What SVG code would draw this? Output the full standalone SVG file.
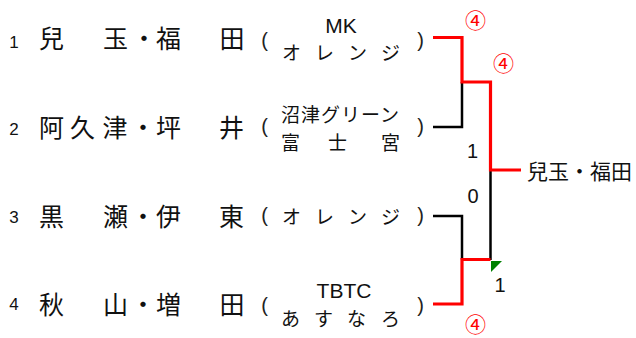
<svg xmlns="http://www.w3.org/2000/svg" width="636" height="338" viewBox="0 0 636 338">
<style>
.num{font-family:"Liberation Sans",Arial,sans-serif;font-size:17px;fill:#111;text-anchor:middle}
.nm{font-family:"Noto Sans CJK JP","Noto Sans CJK SC",sans-serif;font-size:25px;fill:#111;text-anchor:middle}
.par{font-family:"Liberation Sans",Arial,sans-serif;font-size:20px;fill:#222;text-anchor:middle}
.tm{font-family:"Noto Sans CJK JP","Noto Sans CJK SC",sans-serif;font-size:19px;fill:#111}
.lat{font-family:"Liberation Sans",Arial,sans-serif;font-size:21px;fill:#111;text-anchor:middle}
.win{font-family:"Noto Sans CJK JP","Noto Sans CJK SC",sans-serif;font-size:21px;fill:#111}
.sc{font-family:"Liberation Sans",Arial,sans-serif;font-size:20px;fill:#111;text-anchor:middle}
.cn{font-family:"Noto Sans CJK JP","Noto Sans CJK SC",sans-serif;font-size:21px;fill:#ff0000;text-anchor:middle}
.blk{fill:none;stroke:#000;stroke-width:2.5}
.red{fill:none;stroke:#ff0000;stroke-width:3.2}
</style>
<g id="connectors">
<path class="blk" d="M433,127 H462 V82"/>
<path class="blk" d="M433,216 H462 V259.5"/>
<path class="blk" d="M490.5,170 V260"/>
<path class="red" d="M433,37.5 H462 V82 H490.5 V170 H521"/>
<path class="red" d="M433,304 H462 V259.5 H490.5"/>
<polygon points="491,261 502,261 491,272" fill="#008000"/>
</g>
<g id="entry1">
<text class="num" x="14" y="47.5">1</text>
<text class="nm" y="48"><tspan x="51.5">兒</tspan><tspan x="115.5">玉</tspan><tspan x="144">・</tspan><tspan x="168.5">福</tspan><tspan x="232">田</tspan></text>
<text class="par" y="46.5"><tspan x="264.5">(</tspan><tspan x="420.5">)</tspan></text>
<text class="lat" x="341" y="32.5">MK</text>
<text class="tm" y="60"><tspan x="282">オ</tspan><tspan x="315">レ</tspan><tspan x="348">ン</tspan><tspan x="381">ジ</tspan></text>
</g>
<g id="entry2">
<text class="num" x="14" y="135">2</text>
<text class="nm" y="137"><tspan x="51.5">阿</tspan><tspan x="82.5">久</tspan><tspan x="115">津</tspan><tspan x="143">・</tspan><tspan x="168.5">坪</tspan><tspan x="231.5">井</tspan></text>
<text class="par" y="133"><tspan x="264.5">(</tspan><tspan x="420.5">)</tspan></text>
<text class="tm" x="281" y="122" letter-spacing="1">沼津グリーン</text>
<text class="tm" y="150"><tspan x="281">富</tspan><tspan x="328">士</tspan><tspan x="381">宮</tspan></text>
</g>
<g id="entry3">
<text class="num" x="14" y="223">3</text>
<text class="nm" y="225.5"><tspan x="51.5">黒</tspan><tspan x="115.5">瀬</tspan><tspan x="143">・</tspan><tspan x="168.5">伊</tspan><tspan x="231.5">東</tspan></text>
<text class="par" y="221.5"><tspan x="264.5">(</tspan><tspan x="420.5">)</tspan></text>
<text class="tm" y="223.5"><tspan x="282">オ</tspan><tspan x="315">レ</tspan><tspan x="348">ン</tspan><tspan x="381">ジ</tspan></text>
</g>
<g id="entry4">
<text class="num" x="14" y="310">4</text>
<text class="nm" y="314"><tspan x="51.5">秋</tspan><tspan x="115.5">山</tspan><tspan x="143">・</tspan><tspan x="168.5">増</tspan><tspan x="232">田</tspan></text>
<text class="par" y="311.5"><tspan x="264.5">(</tspan><tspan x="420.5">)</tspan></text>
<text class="lat" x="344" y="298">TBTC</text>
<text class="tm" y="325.5"><tspan x="281">あ</tspan><tspan x="314">す</tspan><tspan x="347">な</tspan><tspan x="381">ろ</tspan></text>
</g>
<g id="winner">
<text class="win" x="527" y="179">兒玉・福田</text>
</g>
<g id="scores">
<text class="sc" x="472.5" y="158">1</text>
<text class="sc" x="473" y="203">0</text>
<text class="sc" x="500" y="292">1</text>
<text class="cn" x="475.5" y="27.5">④</text>
<text class="cn" x="503.5" y="70.5">④</text>
<text class="cn" x="475.5" y="331.5">④</text>
</g>
</svg>
